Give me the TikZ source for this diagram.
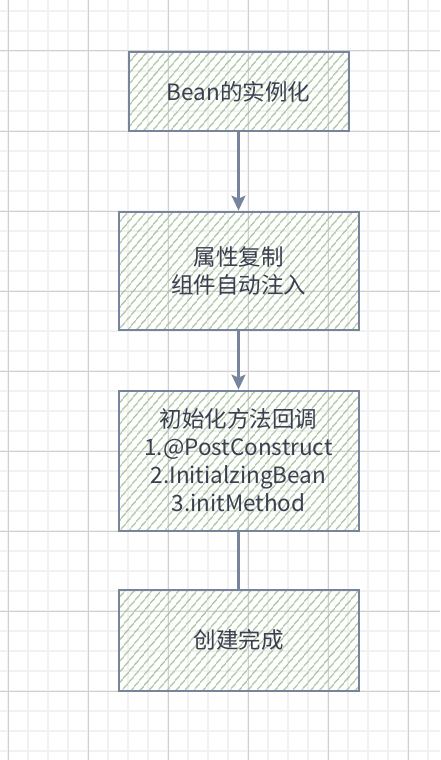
\documentclass[tikz,border=0pt]{standalone}
\usepackage{fontspec}
\setmainfont{Noto Sans CJK SC}
\usetikzlibrary{arrows.meta,patterns.meta,positioning}
\definecolor{gridminor}{HTML}{F1F1F1}
\definecolor{gridmajor}{HTML}{CFCFCF}
\definecolor{boxline}{HTML}{78849C}
\definecolor{boxhatch}{HTML}{A9C29B}
\definecolor{boxtext}{HTML}{3A3E4F}
\tikzset{
	stepbox/.style={draw=boxline, line width=2pt,
		pattern={Lines[angle=50,distance=6.5pt,line width=1.2pt]}, pattern color=boxhatch,
		text=boxtext, align=center, minimum width=240pt, inner sep=2pt,
		font=\fontsize{22.5pt}{28pt}\selectfont},
	flow/.style={draw=boxline, line width=2.2pt}
}
\begin{document}
\begin{tikzpicture}[x=1pt,y=-1pt,>={Stealth[length=15pt,width=14pt,inset=3pt]}]
	\useasboundingbox (0,0) rectangle (440,760);
	% Draw the background grid
	\foreach \gx in {8,28,...,428} \draw[gridminor, line width=1.8pt] (\gx,0) -- (\gx,760);
	\foreach \gy in {11,31,...,751} \draw[gridminor, line width=1.8pt] (0,\gy) -- (440,\gy);
	\foreach \gx in {8,88,...,408} \draw[gridmajor, line width=1pt] (\gx,0) -- (\gx,760);
	\foreach \gy in {51,131,...,731} \draw[gridmajor, line width=1pt] (0,\gy) -- (440,\gy);

	% Draw the steps
	\node[stepbox, minimum width=220pt, minimum height=79pt] (inst) at (238.5,91.5) {Bean的实例化};
	\node[stepbox, minimum height=118pt, below=79pt of inst] (props) {属性复制\\组件自动注入};
	\node[stepbox, minimum height=140pt, below=59pt of props] (init) {初始化方法回调\\1.@PostConstruct\\2.InitialzingBean\\3.initMethod};
	\node[stepbox, minimum height=101pt, below=57pt of init] (done) {创建完成};

	% Draw the connectors
	\draw[flow,->] (inst) -- (props);
	\draw[flow,->] (props) -- (init);
	\draw[flow] (init) -- (done);
\end{tikzpicture}
\end{document}
